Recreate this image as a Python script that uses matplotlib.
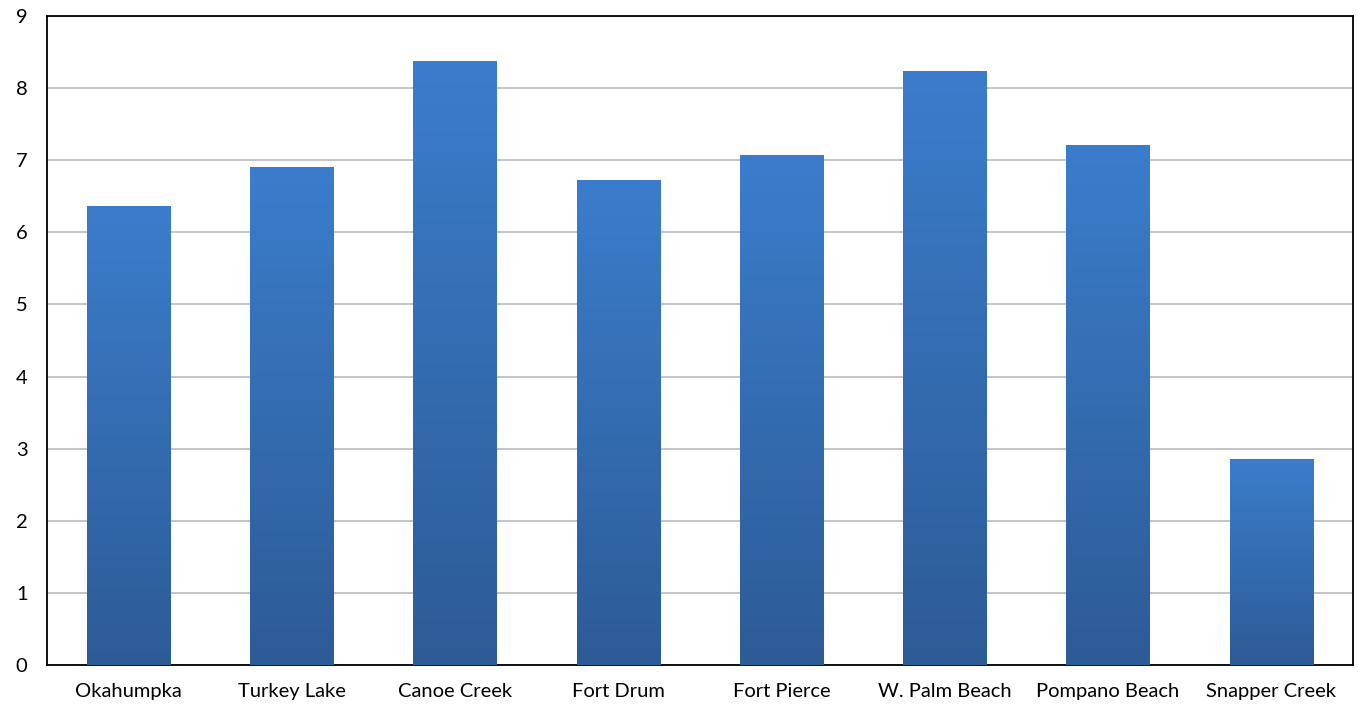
import numpy as np
import matplotlib
matplotlib.use("Agg")
import matplotlib.pyplot as plt
from matplotlib.colors import LinearSegmentedColormap

# Dati
stations = ["Okahumpka", "Turkey Lake", "Canoe Creek", "Fort Drum", "Fort Pierce",
            "W. Palm Beach", "Pompano Beach", "Snapper Creek"]
values = [6.37, 6.91, 8.38, 6.73, 7.07, 8.24, 7.21, 2.86]
yticks = [0, 1, 2, 3, 4, 5, 6, 7, 8, 9]

plt.rcParams['font.family'] = ['Lato', 'DejaVu Sans']

fig = plt.figure(figsize=(13.58, 7.07), dpi=100)
ax = fig.add_axes([0.0346, 0.0594, 0.9617, 0.918])

x = np.arange(len(stations))
bars = ax.bar(x, values, width=0.51, color="#3571b8", zorder=2)

# Gradiente verticale per ogni barra
cmap = LinearSegmentedColormap.from_list("grad", ["#2d5b96", "#3b7dcc"])
grad = np.linspace(0, 1, 256).reshape(-1, 1)
for b in bars:
    x0, y0 = b.get_x(), b.get_y()
    w, h = b.get_width(), b.get_height()
    im = ax.imshow(grad, cmap=cmap, origin="lower", aspect="auto",
                   extent=(x0, x0 + w, y0, y0 + h), zorder=3)
    im.set_clip_path(b)

ax.set_xlim(-0.5, len(stations) - 0.5)
ax.set_ylim(0, 9)
ax.set_yticks(yticks)
ax.set_xticks(x)
ax.set_xticklabels(stations)
ax.tick_params(axis="both", length=0, labelsize=14.5, colors="black")
ax.tick_params(axis="y", pad=14)
ax.tick_params(axis="x", pad=13)
ax.yaxis.grid(True, color="#bfbfbf", linewidth=1.3, zorder=1)
ax.set_axisbelow(True)
for s in ax.spines.values():
    s.set_linewidth(1.3)
    s.set_color("black")

plt.savefig("out.png", dpi=100)
plt.close()
